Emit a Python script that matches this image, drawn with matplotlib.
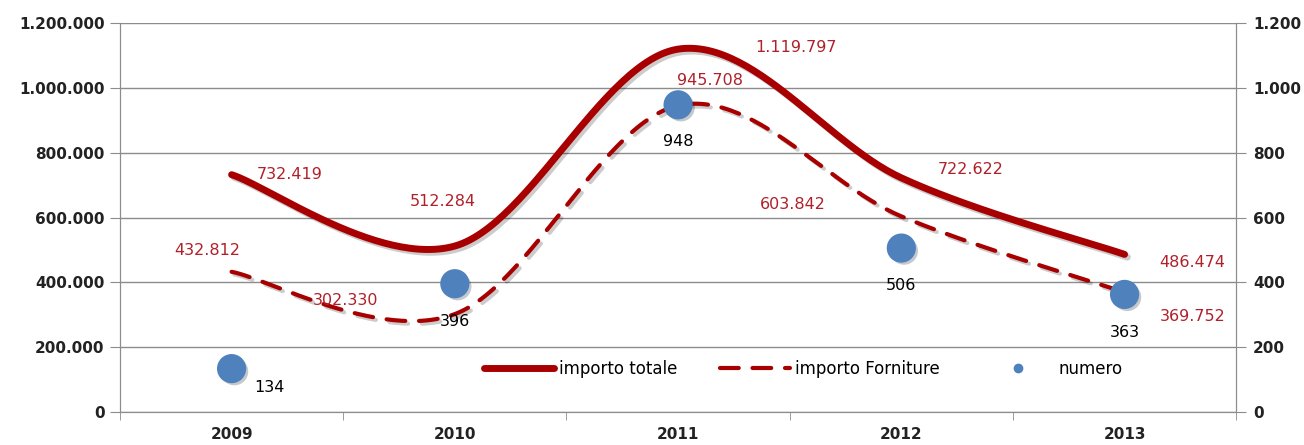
import numpy as np
import matplotlib.pyplot as plt
import matplotlib.patheffects as pe
from matplotlib.lines import Line2D
from matplotlib.ticker import FuncFormatter, MultipleLocator

# dati
anni = ['2009', '2010', '2011', '2012', '2013']
importo_totale = [732419, 512284, 1119797, 722622, 486474]
importo_forniture = [432812, 302330, 945708, 603842, 369752]
numero = [134, 396, 948, 506, 363]

ROSSO = '#A80000'
ROSSO_TXT = '#B0202A'
BLU = '#4F81BD'
GRIGIO = '#8C8C8C'


def punti(v):
    return f"{int(round(v)):,}".replace(',', '.')


# curva liscia stile Excel (bezier cubiche)
def liscia(y, n=60):
    y = np.asarray(y, dtype=float)
    x = np.arange(len(y), dtype=float)
    xs, ys = [], []
    for i in range(len(y) - 1):
        x0, y0 = x[i], y[i]
        x3, y3 = x[i + 1], y[i + 1]
        xa, ya = (x[i - 1], y[i - 1]) if i > 0 else (x0, y0)
        xb, yb = (x[i + 2], y[i + 2]) if i + 2 < len(y) else (x3, y3)
        x1, y1 = x0 + (x3 - xa) / 6, y0 + (y3 - ya) / 6
        x2, y2 = x3 - (xb - x0) / 6, y3 - (yb - y0) / 6
        t = np.linspace(0, 1, n)
        xs.append((1-t)**3*x0 + 3*(1-t)**2*t*x1 + 3*(1-t)*t**2*x2 + t**3*x3)
        ys.append((1-t)**3*y0 + 3*(1-t)**2*t*y1 + 3*(1-t)*t**2*y2 + t**3*y3)
    return np.concatenate(xs), np.concatenate(ys)


fig = plt.figure(figsize=(13.04, 4.45), dpi=100)
ax = fig.add_axes([0.092, 0.074, 0.856, 0.874])
ax2 = ax.twinx()

ombra = [pe.SimpleLineShadow(offset=(2, -2), shadow_color='k', alpha=0.2), pe.Normal()]

xt, yt = liscia(importo_totale)
ax.plot(xt, yt, color=ROSSO, lw=5, solid_capstyle='round', path_effects=ombra, zorder=3)
xf, yf = liscia(importo_forniture)
ax.plot(xf, yf, color=ROSSO, lw=3, dashes=(4.5, 3.3), dash_capstyle='round',
        path_effects=ombra, zorder=3)

pos = np.arange(len(anni))
ax2.scatter(pos, numero, s=400, color=BLU, zorder=4,
            path_effects=[pe.SimplePatchShadow(offset=(2, -2), alpha=0.25), pe.Normal()])

# etichette dati (offset in pixel)
off_tot = [(58, 0), (-12, 45), (118, 2), (69, 8), (68, -8)]
off_forn = [(-24, 21), (-109, 14), (32, 25), (-109, 12), (68, -24)]
off_num = [(38, -19), (0, -38), (0, -37), (0, -37), (0, -38)]

for i in range(len(anni)):
    ax.annotate(punti(importo_totale[i]), (i, importo_totale[i]), xytext=off_tot[i],
                textcoords='offset pixels', ha='center', va='center',
                color=ROSSO_TXT, fontsize=11.5, zorder=5)
    ax.annotate(punti(importo_forniture[i]), (i, importo_forniture[i]), xytext=off_forn[i],
                textcoords='offset pixels', ha='center', va='center',
                color=ROSSO_TXT, fontsize=11.5, zorder=5)
    ax2.annotate(str(numero[i]), (i, numero[i]), xytext=off_num[i],
                 textcoords='offset pixels', ha='center', va='center',
                 color='black', fontsize=11.5, zorder=5)

# assi
ax.set_xlim(-0.5, len(anni) - 0.5)
ax.set_ylim(0, 1200000)
ax2.set_ylim(0, 1200)
ax.yaxis.set_major_locator(MultipleLocator(200000))
ax2.yaxis.set_major_locator(MultipleLocator(200))
ax.yaxis.set_major_formatter(FuncFormatter(lambda v, p: punti(v)))
ax2.yaxis.set_major_formatter(FuncFormatter(lambda v, p: punti(v)))

ax.set_xticks(pos)
ax.set_xticklabels(anni)
ax.set_xticks(np.arange(-0.5, len(anni)), minor=True)
ax.tick_params(axis='x', which='major', length=0, pad=11)
ax.tick_params(axis='x', which='minor', length=6, color=GRIGIO, direction='out')
ax.tick_params(axis='y', length=7, color=GRIGIO, pad=4)
ax2.tick_params(axis='y', length=7, color=GRIGIO, pad=5)
for lab in ax.get_xticklabels() + ax.get_yticklabels() + ax2.get_yticklabels():
    lab.set_fontweight('bold')
    lab.set_fontsize(11)
    lab.set_color('#222222')

ax.grid(axis='y', color=GRIGIO, lw=1)
ax.set_axisbelow(True)
for a in (ax, ax2):
    a.spines['top'].set_visible(False)
    for s in ('left', 'right', 'bottom'):
        a.spines[s].set_color(GRIGIO)

# legenda
h = [Line2D([], [], color=ROSSO, lw=5, solid_capstyle='round'),
     Line2D([], [], color=ROSSO, lw=3, dashes=(4.5, 3.3), dash_capstyle='round'),
     Line2D([], [], color=BLU, marker='o', ls='none', markersize=6)]
ax.legend(h, ['importo totale', 'importo Forniture', 'numero'], ncol=3, frameon=False,
          loc='center', bbox_to_anchor=(0.612, 0.11), fontsize=12, handlelength=4.2,
          handletextpad=0.3, columnspacing=2.6)

fig.savefig('out.png', dpi=100)
